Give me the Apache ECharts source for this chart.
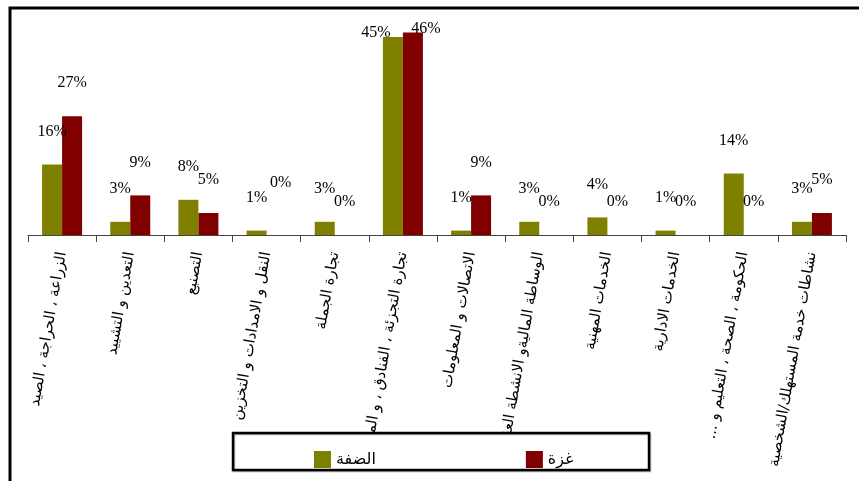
<!DOCTYPE html>
<html>
<head>
<meta charset="utf-8">
<script src="https://cdn.jsdelivr.net/npm/echarts@6/dist/echarts.min.js"></script>
<style>
  html, body { margin: 0; padding: 0; background: #fff; }
  #chart { width: 859px; height: 481px; }
</style>
</head>
<body>
<div id="chart"></div>
<script>
// Sectors of economic activity
const categories = [
  'الزراعة ، الحراجة ، الصيد',
  'التعدين و التشييد',
  'التصنيع',
  'النقل و الامدادات و التخزين',
  'تجارة الجملة',
  'تجارة التجزئة ، الفنادق ، و المطاعم',
  'الاتصالات و المعلومات',
  'الوساطة الماليةو الانشطة العقارية',
  'الخدمات المهنية',
  'الخدمات الادارية',
  'الحكومة ، الصحة ، التعليم و ...',
  'نشاطات خدمة المستهلك/الشخصية'
];
const seriesNames = ['الضفة', 'غزة'];
// Percentage shares
const westBank = [16, 3, 8, 1, 3, 45, 1, 3, 4, 1, 14, 3];
const gaza = [27, 9, 5, 0, 0, 46, 9, 0, 0, 0, 0, 5];
const colors = ['#808000', '#800000'];

// A few value labels are nudged by hand so they do not collide
const labelTweaks = [
  { 5: { distance: -4, offset: [-17, 0] } },
  { 3: { distance: 44, offset: [4, 0] }, 5: { distance: -4, offset: [13, 0] } }
];

function buildData(values, tweaks) {
  return values.map((v, i) => {
    if (!tweaks[i]) return v;
    return { value: v, label: tweaks[i] };
  });
}

const valueLabel = {
  show: true,
  position: 'top',
  distance: 25,
  formatter: '{c}%',
  color: '#000',
  fontFamily: '"Liberation Serif", serif',
  fontSize: 16
};

const chart = echarts.init(document.getElementById('chart'), null, { renderer: 'canvas' });
chart.setOption({
  animation: false,
  backgroundColor: '#fff',
  grid: { left: 28, right: 13, top: 15, bottom: 246, containLabel: false },
  xAxis: {
    type: 'category',
    data: categories,
    boundaryGap: true,
    axisLine: { lineStyle: { color: '#444', width: 1 } },
    axisTick: { show: true, length: 7, lineStyle: { color: '#444' } },
    axisLabel: {
      interval: 0,
      rotate: 80,
      margin: 17,
      color: '#000',
      fontFamily: '"DejaVu Sans", sans-serif',
      fontSize: 15,
      // keep trailing punctuation on the right-to-left side
      formatter: (v) => v + '\u200F'
    }
  },
  yAxis: {
    type: 'value',
    min: 0,
    max: 50,
    show: false,
    splitLine: { show: false }
  },
  legend: {
    data: seriesNames,
    left: 309,
    top: 446,
    itemWidth: 17,
    itemHeight: 17,
    itemGap: 150,
    icon: 'rect',
    z: 30,
    textStyle: { color: '#000', fontSize: 16, fontFamily: '"DejaVu Sans", sans-serif' }
  },
  graphic: [
    {
      type: 'rect',
      z: 0,
      silent: true,
      shape: { x: 10, y: 8, width: 900, height: 500 },
      style: { fill: null, stroke: '#000', lineWidth: 3 }
    },
    {
      type: 'rect',
      z: 20,
      silent: true,
      shape: { x: 233, y: 433, width: 416, height: 37 },
      style: { fill: '#fff', stroke: '#000', lineWidth: 2.5, shadowColor: 'rgba(0,0,0,0.35)', shadowOffsetX: 1, shadowOffsetY: 1 }
    }
  ],
  series: [
    {
      name: seriesNames[0],
      type: 'bar',
      data: buildData(westBank, labelTweaks[0]),
      barWidth: 20,
      barGap: '0%',
      itemStyle: { color: colors[0] },
      label: valueLabel
    },
    {
      name: seriesNames[1],
      type: 'bar',
      data: buildData(gaza, labelTweaks[1]),
      barWidth: 20,
      barGap: '0%',
      itemStyle: { color: colors[1] },
      label: valueLabel
    }
  ]
});
</script>
</body>
</html>
